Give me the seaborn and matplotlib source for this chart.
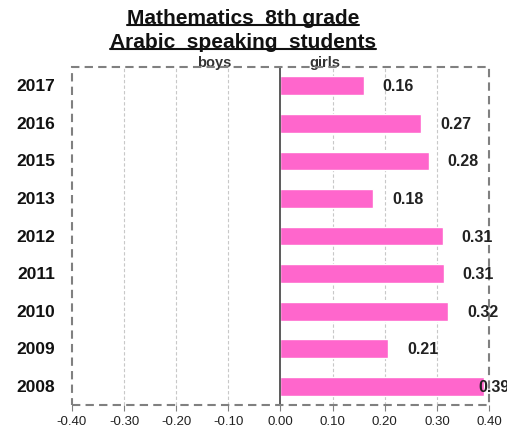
import numpy as np
import pandas as pd
import matplotlib.pyplot as plt
import matplotlib.transforms as mtransforms
from matplotlib.patches import Rectangle
from matplotlib.lines import Line2D
import seaborn as sns

# data
years = ['2017', '2016', '2015', '2013', '2012', '2011', '2010', '2009', '2008']
girls = [0.16, 0.27, 0.284, 0.178, 0.311, 0.313, 0.322, 0.207, 0.39]
girls_labels = ['0.16', '0.27', '0.28', '0.18', '0.31', '0.31', '0.32', '0.21', '0.39']
xticks = [-0.4, -0.3, -0.2, -0.1, 0.0, 0.1, 0.2, 0.3, 0.4]

df = pd.DataFrame({'year': years, 'girls': girls})

sns.set_style('white')
plt.rcParams['font.family'] = ['Liberation Sans', 'DejaVu Sans']

fig = plt.figure(figsize=(5.07, 4.31), dpi=100)
ax = fig.add_axes([0.142, 0.058, 0.8225, 0.784])

sns.barplot(data=df, x='girls', y='year', orient='h', color='#FF66CC',
            saturation=1, width=0.5, ax=ax)

ax.set_xlim(-0.4, 0.4)
ax.set_ylim(8.5, -0.5)
ax.set_xlabel('')
ax.set_ylabel('')

# gridlines
for xv in xticks:
    if abs(xv) > 1e-9 and abs(xv) < 0.39:
        ax.axvline(xv, color='#c8c8c8', lw=0.8, ls=(0, (3, 2)), zorder=0)

# spines: only zero line kept, frame drawn as dashed rectangle
for s in ['top', 'right', 'bottom']:
    ax.spines[s].set_visible(False)
ax.spines['left'].set_position(('data', 0))
ax.spines['left'].set_color('#404040')
ax.spines['left'].set_linewidth(1.2)
ax.add_patch(Rectangle((0, 0), 1, 1, transform=ax.transAxes, fill=False,
                       ec='#808080', lw=1.5, ls=(0, (4, 2.5)), clip_on=False, zorder=5))

# y ticks: boundary ticks on zero line, year labels on left
ax.set_yticks(np.arange(-0.5, 9, 1))
ax.set_yticklabels([])
ax.tick_params(axis='y', direction='out', length=5, color='#404040', width=1)
trans = mtransforms.blended_transform_factory(ax.transAxes, ax.transData)
for i, yr in enumerate(years):
    ax.text(-0.04, i, yr, transform=trans, ha='right', va='center',
            fontsize=12.5, fontweight='bold', color='#111111')

ax.set_xticks(xticks)
ax.set_xticklabels([f'{v:.2f}' for v in xticks])
ax.tick_params(axis='x', direction='out', length=4, color='#808080',
               labelsize=9.5, labelcolor='#222222', pad=3, bottom=True)

# value labels
for i, (v, lab) in enumerate(zip(girls, girls_labels)):
    ax.text(min(v + 0.036, 0.38), i, lab, ha='left', va='center',
            fontsize=11.5, fontweight='bold', color='#222222', clip_on=False, zorder=6)

# boys / girls headers
tr2 = mtransforms.blended_transform_factory(ax.transData, ax.transAxes)
ax.text(-0.127, 1.004, 'boys', transform=tr2, ha='center', va='baseline',
        fontsize=10.5, fontweight='bold', color='#333333')
ax.text(0.086, 1.004, 'girls', transform=tr2, ha='center', va='baseline',
        fontsize=10.5, fontweight='bold', color='#333333')

# title with underlines
t1 = fig.text(0.479, 0.956, 'Mathematics  8th grade', ha='center', va='center',
              fontsize=15, fontweight='bold', color='#111111')
t2 = fig.text(0.479, 0.901, 'Arabic  speaking  students', ha='center', va='center',
              fontsize=15, fontweight='bold', color='#111111')
fig.canvas.draw()
r = fig.canvas.get_renderer()
inv = fig.transFigure.inverted()
for t in (t1, t2):
    bb = t.get_window_extent(r)
    (x0, y0), (x1, _) = inv.transform([[bb.x0, bb.y0 + 2], [bb.x1, bb.y0]])
    fig.add_artist(Line2D([x0, x1], [y0, y0], transform=fig.transFigure,
                          color='#111111', lw=1.5))

fig.savefig('out.png', dpi=100)
plt.close(fig)
